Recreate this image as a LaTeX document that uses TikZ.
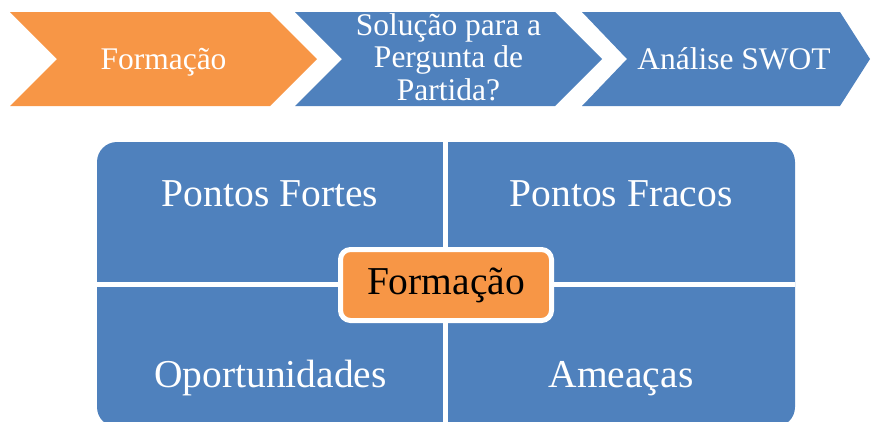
\documentclass[tikz,border=0pt]{standalone}
\usepackage{fontspec}
\setmainfont{Liberation Serif}
\usepackage{tikz}
\usetikzlibrary{positioning}
\definecolor{swotblue}{HTML}{4F81BD}
\definecolor{swotorange}{HTML}{F79646}

\begin{document}
\begin{tikzpicture}[
  x=1pt, y=-1pt,
  chev/.style={fill=swotblue, draw=none},
  chevtext/.style={text=white, align=center, inner sep=0pt,
                   font=\fontsize{31.5}{32.5}\selectfont},
  quadtext/.style={text=white, inner sep=0pt, font=\fontsize{39.5}{42}\selectfont},
  centerbox/.style={draw=white, line width=5pt, fill=swotorange, rounded corners=10pt,
                    minimum width=211pt, minimum height=71pt, inner sep=0pt,
                    font=\fontsize{39.5}{42}\selectfont}
]
\clip (0,0) rectangle (871,421);

% --- Top: process chevrons ---
\fill[chev, fill=swotorange] (10,12) -- (270,12) -- (317,59) -- (270,106) -- (10,106) -- (57,59) -- cycle;
\fill[chev] (295,12) -- (555,12) -- (602,59) -- (555,106) -- (295,106) -- (342,59) -- cycle;
\fill[chev] (582,12) -- (840,12) -- (870,59) -- (840,106) -- (582,106) -- (627,59) -- cycle;

\node[chevtext, anchor=base] (passo1) at (163.5,69) {Formação};
\node[chevtext] (passo2) at (448.5,57) {Solução para a\\Pergunta de\\Partida?};
\node[chevtext, anchor=base] (passo3) at (734,69) {Análise SWOT};

% --- SWOT grid ---
\fill[swotblue, rounded corners=20pt] (97,142) rectangle (795,427);
\draw[white, line width=5pt] (445.5,142) -- (445.5,427);
\draw[white, line width=5pt] (97,284.5) -- (795,284.5);

\node[quadtext, anchor=base] (fortes) at (270,206) {Pontos Fortes};
\node[quadtext, anchor=base] (fracos) at (621,206) {Pontos Fracos};
\node[quadtext, anchor=base] (oport) at (270.5,387) {Oportunidades};
\node[quadtext, anchor=base] (ameacas) at (621,387) {Ameaças};

% --- Centre ---
\node[centerbox] (centro) at (446,285) {Formação};

\end{tikzpicture}
\end{document}
